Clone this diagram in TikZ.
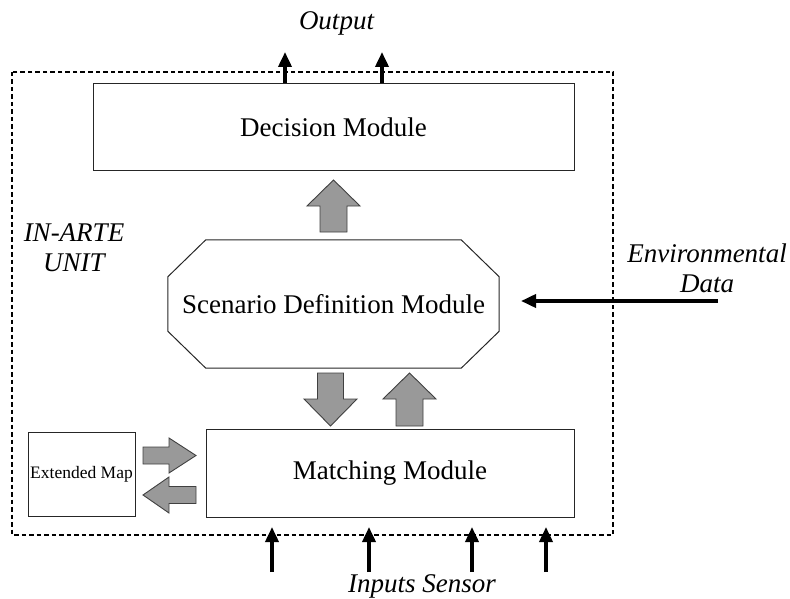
\documentclass[tikz,border=0pt]{standalone}
\usepackage{fontspec}
\setmainfont{Liberation Serif}
\usetikzlibrary{arrows.meta,calc}
\begin{document}
\begin{tikzpicture}[x=1pt,y=-1pt,
  modbox/.style={draw=black!85, line width=1pt, inner sep=0pt,
    font=\fontsize{27}{30}\selectfont},
  caption/.style={inner sep=0pt, align=center,
    font=\fontsize{27}{30}\selectfont\itshape},
  signal/.style={line width=3.6pt, -{Triangle[length=15pt,width=13pt]}},
  blockarrow/.style={fill=black!40, draw=black!75, line width=0.9pt, line join=miter},
  unitframe/.style={draw=black, line width=1.8pt, dash pattern=on 4.5pt off 3pt}]
\useasboundingbox (0,0) rectangle (790,599);

% dashed outline of the unit
\draw[unitframe] (12,72) rectangle (613,535);

% modules
\node[modbox, minimum width=481pt, minimum height=87pt] (dec) at (333.5,127.5) {Decision Module};
\node[inner sep=0pt, minimum width=331pt, minimum height=128pt,
      font=\fontsize{27}{30}\selectfont] (scen) at (333.5,304) {Scenario Definition Module};
\draw[draw=black!85, line width=1pt]
  ($(scen.north west)+(38,0)$) -- ($(scen.north east)+(-38,0)$)
  -- ($(scen.north east)+(0,37)$) -- ($(scen.south east)+(0,-37)$)
  -- ($(scen.south east)+(-38,0)$) -- ($(scen.south west)+(38,0)$)
  -- ($(scen.south west)+(0,-37)$) -- ($(scen.north west)+(0,37)$) -- cycle;
\node[modbox, minimum width=368pt, minimum height=88pt] (match) at (390,473) {Matching Module};
\node[modbox, minimum width=107pt, minimum height=84pt,
      font=\fontsize{17.5}{20}\selectfont] (map) at (81.5,474) {Extended Map};

% labels
\node[caption, anchor=base] (out) at (336.5,29.5) {Output};
\node[caption] (unit) at (74,248) {IN-ARTE\\UNIT};
\node[caption] (env) at (707,268) {Environmental\\Data};
\node[caption, anchor=base] (ins) at (422,592) {Inputs Sensor};

% block arrows between modules
\draw[blockarrow] (333.5,180) -- (360,206) -- (347,206) -- (347,232)
  -- (320,232) -- (320,206) -- (307,206) -- cycle;
\draw[blockarrow] (330.5,426) -- (357,399) -- (343.5,399) -- (343.5,373)
  -- (317.5,373) -- (317.5,399) -- (304,399) -- cycle;
\draw[blockarrow] (409.5,373) -- (436,399) -- (423,399) -- (423,426)
  -- (396,426) -- (396,399) -- (383,399) -- cycle;
\draw[blockarrow] (196,455.5) -- (169,438) -- (169,447) -- (143,447)
  -- (143,464) -- (169,464) -- (169,473) -- cycle;
\draw[blockarrow] (143,495) -- (169,477) -- (169,486.5) -- (196,486.5)
  -- (196,503.5) -- (169,503.5) -- (169,513) -- cycle;

% outputs of the decision module
\coordinate (o1) at (285,52);
\coordinate (o2) at (382,52);
\draw[signal] (dec.north -| o1) -- (o1);
\draw[signal] (dec.north -| o2) -- (o2);

% environmental data input
\coordinate (envsrc) at (718,301);
\coordinate (envtip) at (521,301);
\draw[signal] (envsrc) -- (envtip);

% sensor inputs
\foreach \k/\xx in {1/272,2/369,3/472,4/546}{
  \coordinate (s\k) at (\xx,572);
  \coordinate (t\k) at (\xx,527);
  \draw[signal] (s\k) -- (t\k);
}
\end{tikzpicture}
\end{document}
